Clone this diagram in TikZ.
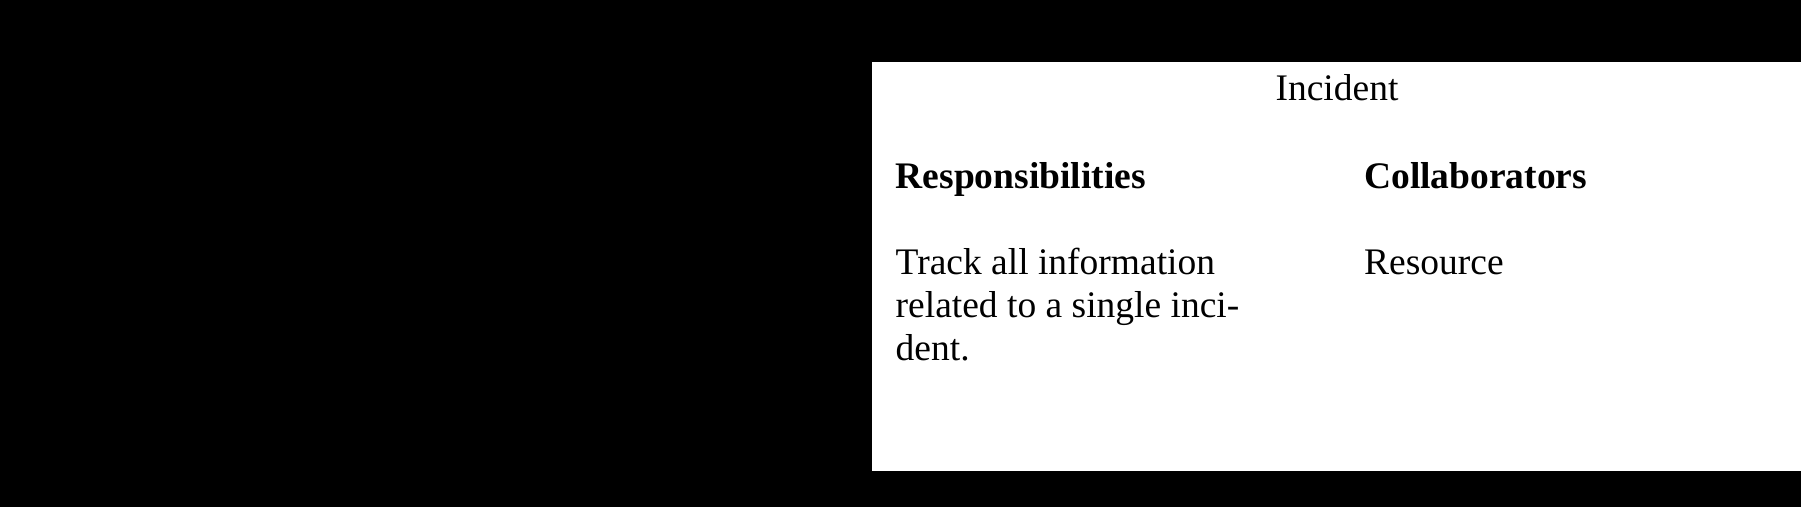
\documentclass[tikz,border=0pt]{standalone}
\usepackage{fontspec}
\setmainfont{Liberation Serif}
\begin{document}
\begin{tikzpicture}[x=1pt,y=-1pt,
  txt/.style={anchor=base west, inner sep=0pt, font=\fontsize{37.5}{43}\selectfont, text=black},
  head/.style={txt, font=\fontsize{37.5}{43}\selectfont\bfseries},
  ttl/.style={txt, anchor=base},
  lefttxt/.style={txt, font=\fontsize{38}{43}\selectfont},
  lefthead/.style={txt, font=\fontsize{38}{43}\selectfont\bfseries},
  leftttl/.style={lefttxt, anchor=base}]
\useasboundingbox (0,0) rectangle (1801,507);
\fill[black] (0,0) rectangle (1801,507);
% left card (black text on black)
\begin{scope}
\clip (0,0) rectangle (868,507);
\node[leftttl] (ltitle) at (500,46) {ReportEmergencyControl};
\node[lefthead] (lresp) at (28,137) {Responsibilities};
\node[lefthead] (lcoll) at (497,137) {Collaborators};
\node[lefttxt] (lr1) at (28,223) {Collects input from Field};
\node[lefttxt] (lr2) at (28,265) {officer};
\node[lefttxt] (lr3) at (28,307) {Controls sequence of};
\node[lefttxt] (lr4) at (28,350) {forms during emergency};
\node[lefttxt] (lr5) at (28,392) {reporting};
\node[lefttxt] (lc1) at (497,223) {EmergencyReportForm};
\node[lefttxt] (lc2) at (497,265) {EmergencyReport};
\node[lefttxt] (lc3) at (497,307) {AcknowledgementNotice};
\end{scope}
% right card
\fill[white] (872,62) rectangle (1801,471);
\node[ttl] (rtitle) at (1337,100) {Incident};
\node[head] (rresp) at (895.5,188) {Responsibilities};
\node[head] (rcoll) at (1364,188) {Collaborators};
\node[txt] (rr1) at (895.5,274) {Track all information};
\node[txt] (rr2) at (895.5,317) {related to a single inci-};
\node[txt] (rr3) at (895.5,360) {dent.};
\node[txt] (rc1) at (1364,274) {Resource};
\end{tikzpicture}
\end{document}
